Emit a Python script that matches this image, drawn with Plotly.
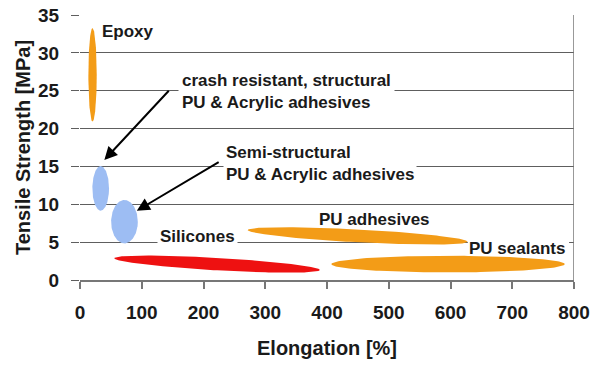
import numpy as np
import plotly.graph_objects as go

# ---- data ----
materials = ["Epoxy", "Crash resistant structural", "Semi-structural",
             "Silicones", "PU adhesives", "PU sealants"]
elong_min = [13.5, 20.0, 50.4, 55.7, 271.5, 407.0]        # % elongation, left end
elong_max = [27.1, 47.0, 93.6, 388.5, 627.5, 785.0]       # % elongation, right end
strength_left = [27.1, 12.1, 7.7, 2.87, 6.6, 2.1]         # MPa at left end
strength_right = [27.1, 12.1, 7.7, 1.32, 5.06, 2.1]       # MPa at right end
strength_half = [6.17, 2.95, 2.87, 0.82, 0.85, 1.1]       # MPa half spread
colors = ["#F39C17", "#9DBDF3", "#9DBDF3", "#EE1111", "#F39C17", "#F39C17"]

x_ticks = [0, 100, 200, 300, 400, 500, 600, 700, 800]
y_ticks = [0, 5, 10, 15, 20, 25, 30, 35]

FONT = "Liberation Sans, Arial, sans-serif"

fig = go.Figure()
t = np.linspace(0, 2 * np.pi, 181)
for name, x0, x1, yl, yr, b, c in zip(materials, elong_min, elong_max,
                                       strength_left, strength_right,
                                       strength_half, colors):
    cx = (x0 + x1) / 2
    a = (x1 - x0) / 2
    cy = (yl + yr) / 2
    dy = (yr - yl) / 2
    xs = cx + a * np.cos(t)
    ys = cy + dy * np.cos(t) + b * np.sin(t)
    fig.add_trace(go.Scatter(x=xs, y=ys, mode="lines", fill="toself",
                             fillcolor=c, line=dict(width=0, color=c),
                             name=name, hoverinfo="name", showlegend=False))

tfont = dict(family=FONT, size=17, color="#1a1a1a", weight="bold")

# text labels
fig.add_annotation(x=32.5, y=32.8, text="Epoxy", showarrow=False,
                   xanchor="left", yanchor="middle", font=tfont)
fig.add_annotation(x=159, y=24.9, text="crash resistant, structural<br>PU &amp; Acrylic adhesives",
                   showarrow=False, xanchor="left", yanchor="middle", align="left",
                   font=tfont, bgcolor="white", borderpad=3)
fig.add_annotation(x=231.6, y=15.35, text="Semi-structural<br>PU &amp; Acrylic adhesives",
                   showarrow=False, xanchor="left", yanchor="middle", align="left",
                   font=tfont, bgcolor="white", borderpad=2)
fig.add_annotation(x=124.5, y=5.7, text="Silicones", showarrow=False,
                   xanchor="left", yanchor="middle", font=tfont, bgcolor="white", borderpad=2)
fig.add_annotation(x=477, y=8.0, text="PU adhesives", showarrow=False,
                   xanchor="center", yanchor="middle", font=tfont)
fig.add_annotation(x=708, y=4.2, text="PU sealants", showarrow=False,
                   xanchor="center", yanchor="middle", font=tfont)
# white backing behind "PU sealants" that hides the gridline but stays under the marks
fig.add_shape(type="rect", xref="x", yref="y", x0=628, x1=792, y0=3.3, y1=5.4,
              fillcolor="white", line=dict(width=0), layer="between")

# arrows
fig.add_annotation(x=39.4, y=15.85, ax=146, ay=25.2, axref="x", ayref="y",
                   xref="x", yref="y", text="", showarrow=True,
                   arrowhead=2, arrowsize=1.3, arrowwidth=2, arrowcolor="black")
fig.add_annotation(x=92, y=9.15, ax=227, ay=15.7, axref="x", ayref="y",
                   xref="x", yref="y", text="", showarrow=True,
                   arrowhead=2, arrowsize=1.3, arrowwidth=2, arrowcolor="black")

# right border
fig.add_shape(type="line", xref="x", yref="y", x0=800, x1=800, y0=0, y1=35,
              line=dict(color="#777777", width=1.5), layer="above")

tickfont = dict(family=FONT, size=19, color="#1a1a1a", weight="bold")
titlefont = dict(family=FONT, size=20, color="#1a1a1a", weight="bold")

fig.update_layout(
    width=600, height=367,
    margin=dict(l=80, r=26, t=15, b=87, autoexpand=False),
    paper_bgcolor="white", plot_bgcolor="white",
    showlegend=False,
    xaxis=dict(range=[0, 800], tickvals=x_ticks, ticktext=[str(v) for v in x_ticks],
               showgrid=False, zeroline=False, showline=True, automargin=False,
               linecolor="#777777", linewidth=1.5,
               ticks="outside", ticklen=7, tickwidth=1.5, tickcolor="#777777",
               tickfont=tickfont, ticklabelstandoff=7, ticklabeloverflow="allow",
               title=dict(text="Elongation [%]", font=titlefont, standoff=19)),
    yaxis=dict(range=[0, 35], tickvals=y_ticks, ticktext=[str(v) for v in y_ticks],
               showgrid=True, gridcolor="#5e5e5e", gridwidth=1.3, automargin=False,
               zeroline=False, showline=False,
               ticks="outside", ticklen=8, tickwidth=1.3, tickcolor="#5e5e5e",
               tickfont=tickfont, ticklabelstandoff=8, ticklabeloverflow="allow",
               title=dict(text="Tensile Strength [MPa]", font=titlefont, standoff=2)),
)

# remove the default 8px page margin so the 600x367 figure fills the window exactly
fig.write_html("out.html",
               config={"displayModeBar": False},
               post_script="document.body.style.margin='0px';"
                           "document.body.style.overflow='hidden';")
